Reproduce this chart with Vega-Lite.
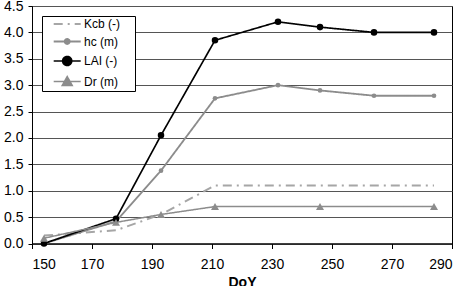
{
  "$schema": "https://vega.github.io/schema/vega-lite/v6.json",
  "width": 420,
  "height": 237.5,
  "autosize": {"type": "none"},
  "padding": {"left": 32, "top": 6, "right": 13, "bottom": 42.5},
  "background": "white",
  "config": {
    "font": "Liberation Sans",
    "view": {"stroke": "#000", "strokeWidth": 1},
    "axis": {
      "labelFont": "Liberation Sans",
      "labelFontSize": 14,
      "labelColor": "#000",
      "domainColor": "#000",
      "tickColor": "#000",
      "titleFont": "Liberation Sans",
      "titleColor": "#000"
    }
  },
  "data": {
    "values": [
      {"series": "Kcb (-)", "doy": 154, "value": 0.15},
      {"series": "Kcb (-)", "doy": 178, "value": 0.25},
      {"series": "Kcb (-)", "doy": 193, "value": 0.55},
      {"series": "Kcb (-)", "doy": 211, "value": 1.1},
      {"series": "Kcb (-)", "doy": 232, "value": 1.1},
      {"series": "Kcb (-)", "doy": 246, "value": 1.1},
      {"series": "Kcb (-)", "doy": 264, "value": 1.1},
      {"series": "Kcb (-)", "doy": 284, "value": 1.1},
      {"series": "hc (m)", "doy": 154, "value": 0.0},
      {"series": "hc (m)", "doy": 178, "value": 0.42},
      {"series": "hc (m)", "doy": 193, "value": 1.38},
      {"series": "hc (m)", "doy": 211, "value": 2.75},
      {"series": "hc (m)", "doy": 232, "value": 3.0},
      {"series": "hc (m)", "doy": 246, "value": 2.9},
      {"series": "hc (m)", "doy": 264, "value": 2.8},
      {"series": "hc (m)", "doy": 284, "value": 2.8},
      {"series": "LAI (-)", "doy": 154, "value": 0.0},
      {"series": "LAI (-)", "doy": 178, "value": 0.47},
      {"series": "LAI (-)", "doy": 193, "value": 2.05},
      {"series": "LAI (-)", "doy": 211, "value": 3.85},
      {"series": "LAI (-)", "doy": 232, "value": 4.2},
      {"series": "LAI (-)", "doy": 246, "value": 4.1},
      {"series": "LAI (-)", "doy": 264, "value": 4.0},
      {"series": "LAI (-)", "doy": 284, "value": 4.0},
      {"series": "Dr (m)", "doy": 154, "value": 0.1},
      {"series": "Dr (m)", "doy": 178, "value": 0.4},
      {"series": "Dr (m)", "doy": 193, "value": 0.55},
      {"series": "Dr (m)", "doy": 211, "value": 0.7},
      {"series": "Dr (m)", "doy": 246, "value": 0.7},
      {"series": "Dr (m)", "doy": 284, "value": 0.7}
    ]
  },
  "encoding": {
    "x": {
      "field": "doy",
      "type": "quantitative",
      "scale": {"domain": [150, 290], "nice": false, "zero": false},
      "axis": {
        "values": [150, 170, 190, 210, 230, 250, 270, 290],
        "grid": false,
        "tickSize": 5,
        "labelPadding": 9,
        "title": "DoY",
        "titleFontSize": 14,
        "titleFontWeight": "bold",
        "titlePadding": 4
      }
    },
    "y": {
      "field": "value",
      "type": "quantitative",
      "scale": {"domain": [0, 4.5], "nice": false},
      "axis": {
        "values": [0, 0.5, 1, 1.5, 2, 2.5, 3, 3.5, 4, 4.5],
        "format": ".1f",
        "grid": true,
        "gridColor": "#555",
        "gridWidth": 1,
        "tickSize": 4,
        "labelPadding": 5,
        "title": null
      }
    },
    "color": {
      "field": "series",
      "type": "nominal",
      "scale": {
        "domain": ["Kcb (-)", "hc (m)", "LAI (-)", "Dr (m)"],
        "range": ["#a6a6a6", "#8c8c8c", "#000000", "#8c8c8c"]
      },
      "legend": {
        "title": null,
        "orient": "none",
        "legendX": 10,
        "legendY": 10,
        "padding": 2,
        "strokeColor": "#000",
        "fillColor": "#fff",
        "symbolSize": 100,
        "labelOffset": 28,
        "labelFont": "Liberation Sans",
        "labelFontSize": 12,
        "labelColor": "#000",
        "rowPadding": 4.5,
        "labelExpr": "datum.label + ' \u2800'",
        "encode": {
          "symbols": {
            "update": {
              "shape": {"signal": "datum.value === 'Kcb (-)' ? 'M0.74,0H6.14' : datum.value === 'hc (m)' ? 'M0.74,0H6.14M2.94,0A0.5,0.5,0,1,1,3.94,0A0.5,0.5,0,1,1,2.94,0Z' : datum.value === 'LAI (-)' ? 'M0.74,0H6.14M2.54,0A0.9,0.9,0,1,1,4.34,0A0.9,0.9,0,1,1,2.54,0Z' : 'M0.74,0H6.14M2.44,0.8L3.44,-1L4.44,0.8Z'"},
              "strokeDash": {"signal": "datum.value === 'Kcb (-)' ? [9, 5, 2, 5] : [1, 0]"},
              "strokeWidth": {"signal": "datum.value === 'Kcb (-)' ? 2 : datum.value === 'LAI (-)' ? 2 : datum.value === 'hc (m)' ? 1.5 : 1"},
              "stroke": {"signal": "scale('color', datum.value)"},
              "fill": {"signal": "datum.value === 'Kcb (-)' ? 'transparent' : scale('color', datum.value)"},
              "opacity": {"value": 1}
            }
          }
        }
      }
    }
  },
  "layer": [
    {
      "mark": {"type": "line"},
      "encoding": {
        "strokeDash": {
          "field": "series",
          "type": "nominal",
          "scale": {
            "domain": ["Kcb (-)", "hc (m)", "LAI (-)", "Dr (m)"],
            "range": [[9, 5, 2, 5], [1, 0], [1, 0], [1, 0]]
          },
          "legend": null
        },
        "strokeWidth": {
          "field": "series",
          "type": "nominal",
          "scale": {
            "domain": ["Kcb (-)", "hc (m)", "LAI (-)", "Dr (m)"],
            "range": [2, 1.5, 2, 1]
          },
          "legend": null
        }
      }
    },
    {
      "transform": [{"filter": "datum.series !== 'Kcb (-)'"}],
      "mark": {"type": "point", "filled": true, "opacity": 1},
      "encoding": {
        "shape": {
          "field": "series",
          "type": "nominal",
          "scale": {
            "domain": ["hc (m)", "LAI (-)", "Dr (m)"],
            "range": ["circle", "circle", "triangle-up"]
          },
          "legend": null
        },
        "size": {
          "field": "series",
          "type": "nominal",
          "scale": {
            "domain": ["hc (m)", "LAI (-)", "Dr (m)"],
            "range": [22, 64, 70]
          },
          "legend": null
        }
      }
    }
  ]
}
